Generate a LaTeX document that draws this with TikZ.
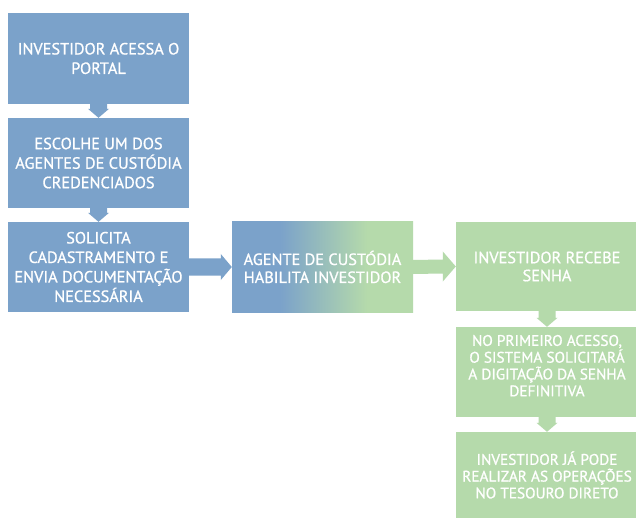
\documentclass[tikz,border=0pt]{standalone}
\usepackage{fontspec}
\setmainfont{PT Sans}[BoldFont={PT Sans}, BoldFeatures={FakeBold=0.9}]
\usetikzlibrary{calc}
\definecolor{blu}{RGB}{123,162,202}
\definecolor{grn}{RGB}{181,218,171}
\pgfdeclarehorizontalshading{bgshade}{100bp}{color(0bp)=(blu); color(25bp)=(blu); color(38.3bp)=(blu); color(62.3bp)=(grn); color(75bp)=(grn); color(100bp)=(grn)}
\newcommand\vArr[3]{%
  \fill[#3] ($(#1.south)+(-8.5,0)$) -- ($(#1.south)+(8.5,0)$) -- ($(#2.north)+(8.5,-9)$)
    -- ($(#2.north)+(10.5,-9)$) -- (#2.north) -- ($(#2.north)+(-10.5,-9)$)
    -- ($(#2.north)+(-8.5,-9)$) -- cycle;}
\newcommand\hArr[6]{%
  \fill[#3] ($(#1.east)+(0,-#4)$) -- ($(#2.west)+(-#6,-#4)$) -- ($(#2.west)+(-#6,-#5)$)
    -- (#2.west) -- ($(#2.west)+(-#6,#5)$) -- ($(#2.west)+(-#6,#4)$) -- ($(#1.east)+(0,#4)$) -- cycle;}
\begin{document}
\begin{tikzpicture}[x=1pt,y=-1pt,
  box/.style={minimum width=181pt, minimum height=90pt, inner sep=0pt, align=center,
    text=white, font=\fontsize{16.3}{19.5}\selectfont\bfseries},
  bbox/.style={box, fill=blu},
  gbox/.style={box, fill=grn},
  small/.style={font=\fontsize{15.3}{16.8}\selectfont\bfseries},
  mid/.style={font=\fontsize{16.3}{18}\selectfont\bfseries}]
\useasboundingbox (0,0) rectangle (636,518);
\clip (0,0) rectangle (636,518);
\fill[white] (0,0) rectangle (636,518);
\node[bbox, minimum height=91pt] (b1) at (98.5,58.5) {INVESTIDOR ACESSA O\\PORTAL};
\node[bbox] (b2) at (98.5,163) {ESCOLHE UM DOS\\AGENTES DE CUSTÓDIA\\CREDENCIADOS};
\node[bbox] (b3) at (98.5,267) {SOLICITA\\CADASTRAMENTO E\\ENVIA DOCUMENTAÇÃO\\NECESSÁRIA};
\node[box, mid, shading=bgshade, shading angle=0] (b4) at (322.5,267) {AGENTE DE CUSTÓDIA\\HABILITA INVESTIDOR};
\node[gbox, mid, minimum width=182pt, minimum height=89pt] (b5) at (547,266.5) {INVESTIDOR RECEBE\\SENHA};
\node[gbox, small, minimum width=182pt] (b6) at (547,372) {NO PRIMEIRO ACESSO,\\O SISTEMA SOLICITARÁ\\A DIGITAÇÃO DA SENHA\\DEFINITIVA\\[-4pt]};
\node[gbox, small, minimum width=182pt, minimum height=86pt] (b7) at (547,475) {INVESTIDOR JÁ PODE\\REALIZAR AS OPERAÇÕES\\NO TESOURO DIRETO};
\vArr{b1}{b2}{blu}
\vArr{b2}{b3}{blu}
\vArr{b5}{b6}{grn}
\vArr{b6}{b7}{grn}
\hArr{b3}{b4}{blu}{8.5}{13}{11}
\hArr{b4}{b5}{grn}{7}{15}{13}
\end{tikzpicture}
\end{document}
